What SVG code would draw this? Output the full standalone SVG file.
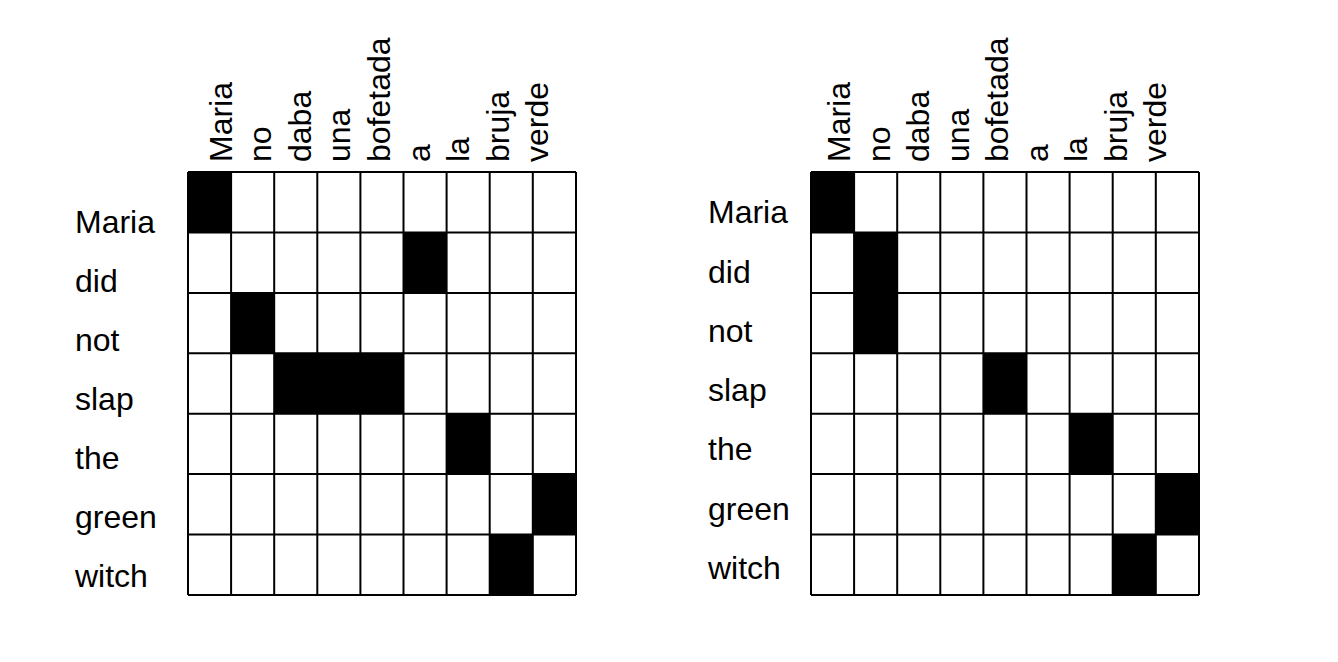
<svg xmlns="http://www.w3.org/2000/svg" width="1338" height="662" viewBox="0 0 1338 662">
<style>
text{font-family:"Liberation Sans",Arial,sans-serif;font-size:32px;fill:#000}
.g{fill:none;stroke:#000;stroke-width:2}
.f{fill:#000}
</style>
<rect width="1338" height="662" fill="#fff"/>
<g id="left-grid">
<g id="left-filled">
<rect class="f" x="188" y="172" width="43.1" height="60.4"/>
<rect class="f" x="403.5" y="232.4" width="43.1" height="60.5"/>
<rect class="f" x="231.1" y="292.9" width="43.1" height="60.4"/>
<rect class="f" x="274.2" y="353.3" width="129.3" height="60.4"/>
<rect class="f" x="446.6" y="413.7" width="43.1" height="60.4"/>
<rect class="f" x="532.8" y="474.1" width="43.2" height="60.5"/>
<rect class="f" x="489.7" y="534.6" width="43.1" height="60.4"/>
</g>
<path class="g" d="M188,172V595M231.1,172V595M274.2,172V595M317.3,172V595M360.4,172V595M403.5,172V595M446.6,172V595M489.7,172V595M532.8,172V595M576,172V595M188,172H576M188,232.4H576M188,292.9H576M188,353.3H576M188,413.7H576M188,474.1H576M188,534.6H576M188,595H576"/>
<g id="left-rows">
<text x="75" y="233">Maria</text>
<text x="75" y="292">did</text>
<text x="75" y="351">not</text>
<text x="75" y="410">slap</text>
<text x="75" y="469">the</text>
<text x="75" y="528">green</text>
<text x="75" y="587">witch</text>
</g>
<g id="left-cols">
<text transform="translate(231.5,162) rotate(-90)">Maria</text>
<text transform="translate(271,162) rotate(-90)">no</text>
<text transform="translate(310.5,162) rotate(-90)">daba</text>
<text transform="translate(350,162) rotate(-90)">una</text>
<text transform="translate(390,162) rotate(-90)">bofetada</text>
<text transform="translate(429.5,162) rotate(-90)">a</text>
<text transform="translate(469,162) rotate(-90)">la</text>
<text transform="translate(508.5,162) rotate(-90)">bruja</text>
<text transform="translate(548,162) rotate(-90)">verde</text>
</g>
</g>
<g id="right-grid">
<g id="right-filled">
<rect class="f" x="811" y="172" width="43.1" height="60.4"/>
<rect class="f" x="854.1" y="232.4" width="43.1" height="120.9"/>
<rect class="f" x="983.4" y="353.3" width="43.1" height="60.4"/>
<rect class="f" x="1069.6" y="413.7" width="43.1" height="60.4"/>
<rect class="f" x="1155.8" y="474.1" width="43.2" height="60.5"/>
<rect class="f" x="1112.7" y="534.6" width="43.1" height="60.4"/>
</g>
<path class="g" d="M811,172V595M854.1,172V595M897.2,172V595M940.3,172V595M983.4,172V595M1026.5,172V595M1069.6,172V595M1112.7,172V595M1155.8,172V595M1199,172V595M811,172H1199M811,232.4H1199M811,292.9H1199M811,353.3H1199M811,413.7H1199M811,474.1H1199M811,534.6H1199M811,595H1199"/>
<g id="right-rows">
<text x="708" y="223">Maria</text>
<text x="708" y="283">did</text>
<text x="708" y="342">not</text>
<text x="708" y="401">slap</text>
<text x="708" y="460">the</text>
<text x="708" y="520">green</text>
<text x="708" y="579">witch</text>
</g>
<g id="right-cols">
<text transform="translate(850,162) rotate(-90)">Maria</text>
<text transform="translate(889.5,162) rotate(-90)">no</text>
<text transform="translate(929,162) rotate(-90)">daba</text>
<text transform="translate(968.5,162) rotate(-90)">una</text>
<text transform="translate(1008,162) rotate(-90)">bofetada</text>
<text transform="translate(1047.5,162) rotate(-90)">a</text>
<text transform="translate(1087,162) rotate(-90)">la</text>
<text transform="translate(1126.5,162) rotate(-90)">bruja</text>
<text transform="translate(1166,162) rotate(-90)">verde</text>
</g>
</g>
</svg>
